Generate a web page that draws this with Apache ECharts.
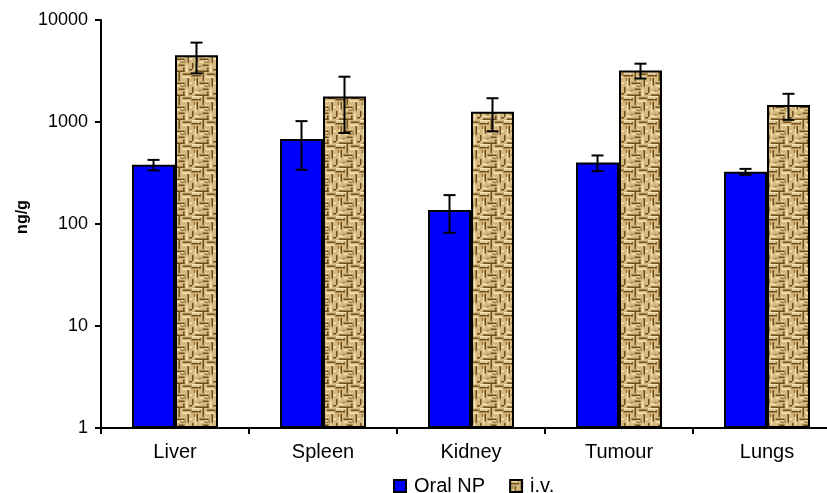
<!DOCTYPE html>
<html>
<head>
<meta charset="utf-8">
<style>
  html, body { margin: 0; padding: 0; background: #fff; }
  #chart { width: 827px; height: 493px; }
</style>
<script src="https://cdn.jsdelivr.net/npm/echarts@6/dist/echarts.min.js"></script>
</head>
<body>
<div id="chart"></div>
<script>
// Tissue concentrations (ng/g), mean and error
const organs = ['Liver', 'Spleen', 'Kidney', 'Tumour', 'Lungs'];
const oralMean = [380, 680, 137, 400, 325];
const oralErr  = [45, 340, 55, 70, 22];
const ivMean   = [4500, 1780, 1260, 3200, 1470];
const ivErr    = [1500, 1000, 450, 530, 420];
const seriesNames = ['Oral NP', 'i.v.'];

const FONT = 'Arial, "Liberation Sans", sans-serif';
const BAR_W = 43;

// Woven burlap-like fill for the i.v. bars
function makeWeave() {
  const s = 1.5;
  const c = document.createElement('canvas');
  c.width = 24; c.height = 24;
  const g = c.getContext('2d');
  g.scale(s, s);
  g.fillStyle = '#d6b97f';
  g.fillRect(0, 0, 16, 16);
  g.fillStyle = '#f3e3b6';
  [[0,0,7,1],[9,3,6,1],[2,6,1,5],[5,9,8,1],[12,11,1,5],[0,13,6,1],[9,6,1,3],[14,7,2,1],[4,1,1,2]].forEach(r => g.fillRect(...r));
  g.fillStyle = '#6e4c1c';
  [[0,2,6,1],[7,0,1,6],[10,1,5,1],[3,4,1,5],[5,7,6,1],[13,4,1,6],[0,10,1,4],[7,11,4,1],[2,15,9,1],[10,13,1,3],[14,14,2,1]].forEach(r => g.fillRect(...r));
  g.fillStyle = '#a38043';
  [[1,4,1,2],[8,9,3,1],[4,12,2,1],[11,8,1,2],[15,1,1,2],[5,1,1,1]].forEach(r => g.fillRect(...r));
  return c;
}
const weave = { image: makeWeave(), repeat: 'repeat' };

function errorSeries(means, errs, offset) {
  return {
    type: 'custom',
    z: 5,
    silent: true,
    data: means.map((m, i) => [i, m, errs[i]]),
    encode: { x: 0, y: 1 },
    renderItem: function (params, api) {
      const i = api.value(0), m = api.value(1), e = api.value(2);
      const hi = api.coord([i, m + e]);
      const lo = api.coord([i, Math.max(m - e, 1e-3)]);
      const x = hi[0] + offset;
      const cap = 6;
      const st = { stroke: '#000', lineWidth: 2 };
      return {
        type: 'group',
        children: [
          { type: 'line', shape: { x1: x, y1: hi[1], x2: x, y2: lo[1] }, style: st },
          { type: 'line', shape: { x1: x - cap, y1: hi[1], x2: x + cap, y2: hi[1] }, style: st },
          { type: 'line', shape: { x1: x - cap, y1: lo[1], x2: x + cap, y2: lo[1] }, style: st }
        ]
      };
    }
  };
}

const chart = echarts.init(document.getElementById('chart'), null, { renderer: 'canvas' });
chart.setOption({
  animation: false,
  backgroundColor: '#fff',
  grid: { left: 101, width: 740, top: 20, height: 408, containLabel: false, outerBoundsMode: 'none' },
  legend: {
    data: seriesNames,
    left: 388,
    top: 471,
    itemWidth: 12,
    itemHeight: 12,
    itemGap: 24,
    icon: 'rect',
    textStyle: { fontFamily: FONT, fontSize: 20, color: '#000', padding: [0, 0, 0, 3] }
  },
  xAxis: {
    type: 'category',
    data: organs,
    axisLine: { lineStyle: { color: '#000', width: 2 } },
    axisTick: { show: true, length: 6, interval: 0, lineStyle: { color: '#000', width: 2 } },
    axisLabel: { fontFamily: FONT, fontSize: 20, color: '#000', margin: 14 },
    splitLine: { show: false }
  },
  yAxis: {
    type: 'log',
    logBase: 10,
    min: 1,
    max: 10000,
    name: 'ng/g',
    nameLocation: 'middle',
    nameGap: 70,
    nameMoveOverlap: false,
    nameRotate: 90,
    nameTextStyle: { fontFamily: FONT, fontSize: 16, fontWeight: 'bold', color: '#000', padding: [0, 0, 0, 14] },
    axisLine: { show: true, lineStyle: { color: '#000', width: 2 } },
    axisTick: { show: true, length: 6, lineStyle: { color: '#000', width: 2 } },
    axisLabel: { fontFamily: FONT, fontSize: 18, color: '#000', margin: 13, formatter: v => String(v) },
    splitLine: { show: false },
    minorTick: { show: false }
  },
  series: [
    {
      name: seriesNames[0],
      type: 'bar',
      data: oralMean,
      barWidth: BAR_W,
      barGap: '0%',
      itemStyle: { color: '#0000ff', borderColor: '#000', borderWidth: 2 }
    },
    {
      name: seriesNames[1],
      type: 'bar',
      data: ivMean,
      barWidth: BAR_W,
      barGap: '0%',
      itemStyle: { color: weave, borderColor: '#000', borderWidth: 2 }
    },
    errorSeries(oralMean, oralErr, -BAR_W / 2),
    errorSeries(ivMean, ivErr, BAR_W / 2)
  ]
});
</script>
</body>
</html>
